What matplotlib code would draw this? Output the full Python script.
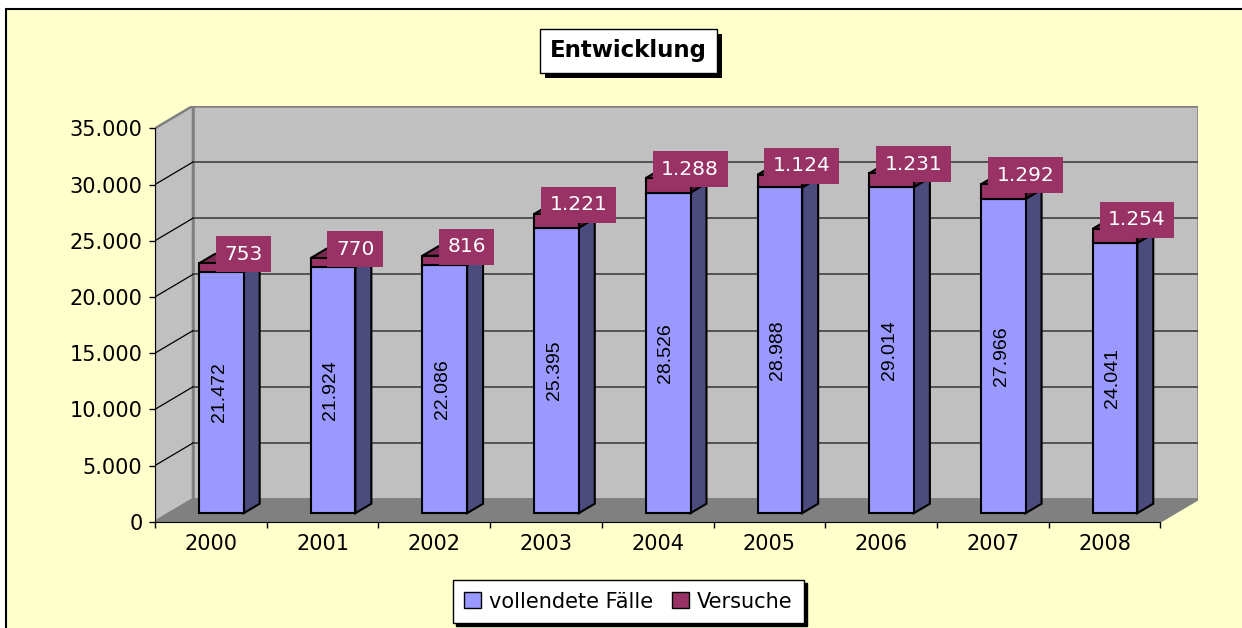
import matplotlib.pyplot as plt
from matplotlib.patches import Polygon, Rectangle

years = ['2000', '2001', '2002', '2003', '2004', '2005', '2006', '2007', '2008']
vollendete = [21472, 21924, 22086, 25395, 28526, 28988, 29014, 27966, 24041]
versuche = [753, 770, 816, 1221, 1288, 1124, 1231, 1292, 1254]
yticks = [0, 5000, 10000, 15000, 20000, 25000, 30000, 35000]

c_blue = '#9999FF'
c_blue_side = '#4B4B7E'
c_red = '#993366'
c_red_side = '#4D1A33'
c_red_top = '#7A2952'

W, H = 1242, 628
DX = 0.34      # depth offset of back wall (category units)
DY = 2000      # depth offset of back wall (value units)
d0, d1 = 0.38, 0.80   # bar depth range (fraction of wall depth)
bar_off, bar_w = 0.265, 0.40


def fmt(v):
    return f"{v:,}".replace(',', '.')


fig = plt.figure(figsize=(W / 100, H / 100), dpi=100, facecolor='white')
# yellow chart area with black frame
fig.add_artist(Rectangle((6 / W, -0.02), 1.0, (H - 9) / H + 0.02, transform=fig.transFigure,
                         facecolor='#FFFFCC', edgecolor='black', linewidth=1.5, zorder=0))

x0, x1 = 155, 155 + 9.34 * 111.7
ybot, ytop = 521.7, 521.7 - 37000 * 0.01124
ax = fig.add_axes([x0 / W, (H - ybot) / H, (x1 - x0) / W, (ybot - ytop) / H])
ax.set_xlim(0, 9 + DX)
ax.set_ylim(0, 35000 + DY)
ax.patch.set_visible(False)
for s in ['top', 'right']:
    ax.spines[s].set_visible(False)
ax.spines['left'].set_bounds(0, 35000)
ax.spines['bottom'].set_bounds(0, 9)
ax.spines['left'].set_zorder(5)
ax.spines['bottom'].set_zorder(5)

n = len(years)
top = 35000

# walls and floor
ax.add_patch(Polygon([(DX, DY), (n + DX, DY), (n + DX, top + DY), (DX, top + DY)],
                     closed=True, facecolor='#C0C0C0', edgecolor='#808080', lw=1.8, zorder=1))
ax.add_patch(Polygon([(0, 0), (DX, DY), (DX, top + DY), (0, top)],
                     closed=True, facecolor='#C0C0C0', edgecolor='#808080', lw=1.8, zorder=1))
ax.add_patch(Polygon([(0, 0), (n, 0), (n + DX, DY), (DX, DY)],
                     closed=True, facecolor='#808080', edgecolor='#808080', lw=1.5, zorder=1))
for v in yticks[1:-1]:
    ax.plot([DX, n + DX], [v + DY, v + DY], color='#404040', lw=1.2, zorder=2)
    ax.plot([0, DX], [v, v + DY], color='black', lw=0.9, zorder=2)

# bars
for i in range(n):
    xl = i + bar_off + d0 * DX
    xr = xl + bar_w
    yb = d0 * DY
    ym = yb + vollendete[i]
    yt = ym + versuche[i]
    sx = (d1 - d0) * DX
    sy = (d1 - d0) * DY
    ec = dict(edgecolor='black', linewidth=1.5, zorder=3, joinstyle='miter')
    ax.add_patch(Polygon([(xr, yb), (xr + sx, yb + sy), (xr + sx, ym + sy), (xr, ym)],
                         facecolor=c_blue_side, **ec))
    ax.add_patch(Polygon([(xr, ym), (xr + sx, ym + sy), (xr + sx, yt + sy), (xr, yt)],
                         facecolor=c_red_side, **ec))
    ax.add_patch(Polygon([(xl, yt), (xr, yt), (xr + sx, yt + sy), (xl + sx, yt + sy)],
                         facecolor=c_red_top, **ec))
    ax.add_patch(Rectangle((xl, yb), bar_w, vollendete[i], facecolor=c_blue, **ec))
    ax.add_patch(Rectangle((xl, ym), bar_w, versuche[i], facecolor=c_red, **ec))
    ax.text(xl + bar_w / 2 - 0.02, (yb + ym) / 2, fmt(vollendete[i]), rotation=90,
            ha='center', va='center', fontsize=14, family='Liberation Sans', color='black', zorder=4)
    ax.annotate(fmt(versuche[i]), (xl + bar_w / 2, yt), xytext=(22, 9), textcoords='offset pixels',
                ha='center', va='center', fontsize=14.5, color='white', zorder=6,
                bbox=dict(boxstyle='square,pad=0.42', facecolor=c_red, edgecolor='none'))

# axes ticks
ax.set_yticks(yticks)
ax.set_yticklabels([fmt(v) for v in yticks])
ax.set_xticks(range(n + 1))
ax.set_xticklabels([])
ax.set_xticks([i + 0.5 for i in range(n)], minor=True)
ax.set_xticklabels(years, minor=True)
ax.tick_params(axis='y', direction='out', length=4, width=1, pad=5, labelsize=15)
ax.tick_params(axis='x', which='major', direction='out', length=4, width=1)
ax.tick_params(axis='x', which='minor', length=0, pad=9, labelsize=15)

# title with shadow
title = fig.text(628.5 / W, (H - 51) / H, 'Entwicklung', ha='center', va='center', fontsize=16.5,
                 fontweight='bold', zorder=3,
                 bbox=dict(boxstyle='square,pad=0.45', facecolor='white', edgecolor='black', linewidth=1))

# legend
h1 = Rectangle((0, 0), 1, 1, facecolor=c_blue, edgecolor='black', linewidth=1)
h2 = Rectangle((0, 0), 1, 1, facecolor=c_red, edgecolor='black', linewidth=1)
leg = fig.legend([h1, h2], ['vollendete Fälle', 'Versuche'], loc='center',
                 bbox_to_anchor=(628.5 / W, (H - 601.5) / H), ncol=2, fontsize=15,
                 fancybox=False, frameon=True, edgecolor='black', framealpha=1,
                 handlelength=0.8, handleheight=0.8, handletextpad=0.4, columnspacing=0.9,
                 borderpad=0.55, shadow={'color': 'black', 'alpha': 1})
leg.get_frame().set_linewidth(1)

# title shadow behind the title box
fig.canvas.draw()
bb = title.get_bbox_patch().get_window_extent()
fig.add_artist(Rectangle((bb.x0 + 5, bb.y0 - 5), bb.width, bb.height, transform=None,
                         facecolor='black', edgecolor='none', zorder=2))

fig.savefig('out.png', dpi=100, facecolor=fig.get_facecolor())
